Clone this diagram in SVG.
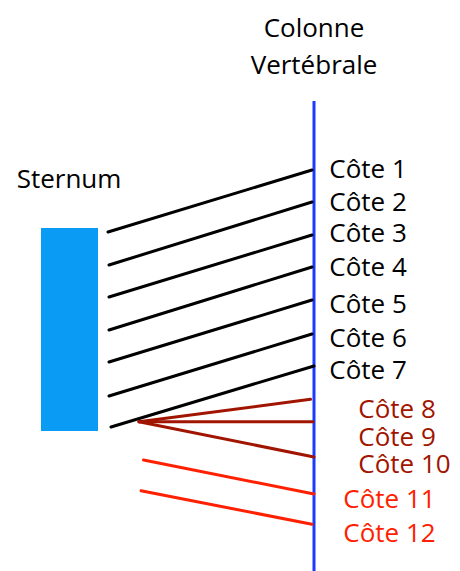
<svg xmlns="http://www.w3.org/2000/svg" width="460" height="571" viewBox="0 0 460 571">
  <style>
    text { font-family: "Open Sans", "Noto Sans", "Liberation Sans", sans-serif; font-size: 26px; }
    .lbl { fill: #000000; }
    .lbl-float { fill: #A01400; }
    .lbl-free { fill: #FF2000; }
    .rib { stroke: #000000; stroke-width: 3; stroke-linecap: round; fill: none; }
    .rib-float { stroke: #A01400; stroke-width: 3; stroke-linecap: round; fill: none; }
    .rib-free { stroke: #FF2000; stroke-width: 3; stroke-linecap: round; fill: none; }
  </style>
  <rect width="460" height="571" fill="#ffffff"/>

  <!-- Spine -->
  <g id="colonne">
    <line x1="314" y1="101" x2="314" y2="571" stroke="#1A3CFF" stroke-width="3"/>
    <text class="lbl" x="314" y="36.7" text-anchor="middle">Colonne</text>
    <text class="lbl" x="314" y="74" text-anchor="middle">Vertébrale</text>
  </g>

  <!-- Sternum -->
  <g id="sternum">
    <rect x="41" y="228" width="57" height="203" fill="#0A9CF5"/>
    <text class="lbl" x="69" y="188.3" text-anchor="middle">Sternum</text>
  </g>

  <!-- Ribs -->
  <g id="connectors">
    <line class="rib" x1="108" y1="232" x2="312" y2="170"/>
    <line class="rib" x1="109" y1="265" x2="312" y2="202"/>
    <line class="rib" x1="109" y1="297" x2="312" y2="235"/>
    <line class="rib" x1="109" y1="330" x2="312" y2="267"/>
    <line class="rib" x1="109" y1="362" x2="312" y2="300"/>
    <line class="rib" x1="109" y1="396" x2="312" y2="334"/>
    <line class="rib" x1="111" y1="427" x2="314" y2="366"/>
    <line class="rib-float" x1="139" y1="421.7" x2="310.5" y2="399.3"/>
    <line class="rib-float" x1="139" y1="421.7" x2="313" y2="421.7"/>
    <line class="rib-float" x1="139" y1="421.7" x2="314" y2="457"/>
    <line class="rib-free" x1="143.5" y1="460" x2="314" y2="494"/>
    <line class="rib-free" x1="141" y1="490.7" x2="312" y2="524.3"/>
  </g>

  <!-- Rib labels -->
  <g id="cote1"><text class="lbl" x="329.3" y="177.7">Côte 1</text></g>
  <g id="cote2"><text class="lbl" x="329.3" y="211">Côte 2</text></g>
  <g id="cote3"><text class="lbl" x="329.3" y="241.7">Côte 3</text></g>
  <g id="cote4"><text class="lbl" x="329.3" y="276">Côte 4</text></g>
  <g id="cote5"><text class="lbl" x="329.3" y="313.3">Côte 5</text></g>
  <g id="cote6"><text class="lbl" x="329.3" y="346.7">Côte 6</text></g>
  <g id="cote7"><text class="lbl" x="329.3" y="379.3">Côte 7</text></g>
  <g id="cote8"><text class="lbl-float" x="358.3" y="418.3">Côte 8</text></g>
  <g id="cote9"><text class="lbl-float" x="358.3" y="446">Côte 9</text></g>
  <g id="cote10"><text class="lbl-float" x="358.3" y="473.3">Côte 10</text></g>
  <g id="cote11"><text class="lbl-free" x="343.3" y="508.3">Côte 11</text></g>
  <g id="cote12"><text class="lbl-free" x="343.3" y="541.7">Côte 12</text></g>
</svg>
